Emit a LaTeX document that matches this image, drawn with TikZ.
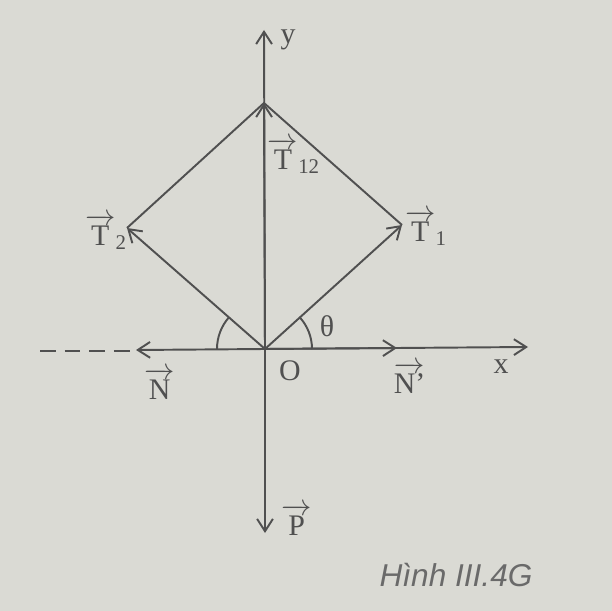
\documentclass[tikz,border=0pt]{standalone}
\usepackage{amsmath}
\usepackage{fontspec}
\setmainfont{Liberation Serif}
\newfontfamily\capfont{Liberation Sans}
\usetikzlibrary{arrows.meta}
\definecolor{paper}{RGB}{218,218,212}
\definecolor{ink}{RGB}{80,80,80}
\newcommand\vlab[2]{$\overrightarrow{\text{#1}}_{\text{#2}}$}
\begin{document}
\begin{tikzpicture}[x=0.02cm,y=-0.02cm,
  vec/.style={draw=ink,line width=1.1pt,-{Straight Barb[length=7pt,width=9pt,line width=1.1pt]}},
  ln/.style={draw=ink,line width=1.1pt},
  lab/.style={text=ink,font=\fontsize{17}{20}\selectfont,inner sep=0pt}]
\fill[paper] (0,0) rectangle (612,611);
\useasboundingbox (0,0) rectangle (612,611);
\coordinate (O) at (265,349);
\coordinate (Ytop) at (264,30);
\coordinate (Xend) at (528,347);
\coordinate (T12) at (264,103);
\coordinate (T1) at (402,225);
\coordinate (T2) at (127,228);
\coordinate (P) at (265,533);
\coordinate (N) at (136,350);
\coordinate (Np) at (397,348);
\coordinate (D1) at (40,351);
\coordinate (D2) at (130,351);
% axes
\draw[vec] (O) -- (Ytop);
\draw[vec] (O) -- (Xend);
\draw[vec] (O) -- (P);
\draw[vec] (O) -- (N);
\draw[vec] (O) -- (Np);
\draw[ln,dashed,dash pattern=on 9pt off 5pt] (D1) -- (D2);
% forces
\draw[vec] (O) -- (T12);
\draw[vec] (O) -- (T1);
\draw[vec] (O) -- (T2);
\draw[ln] (T1) -- (T12) -- (T2);
% angles
\draw[ln] (O) ++(47,0) arc[start angle=0,end angle=-42,radius=47];
\draw[ln] (O) ++(-48,0) arc[start angle=180,end angle=221,radius=48];
% labels
\node[lab] (ly) at (288,40) {y};
\node[lab] (lx) at (501,367) {x};
\node[lab] (lO) at (290,371) {O};
\node[lab] (lth) at (327,326) {θ};
\node[lab] (lT12) at (294,156) {\vlab{T}{12}};
\node[lab] (lT1) at (426,228) {\vlab{T}{1}};
\node[lab] (lT2) at (106,232) {\vlab{T}{2}};
\node[lab] (lN) at (160,386) {\vlab{N}{}};
\node[lab] (lNp) at (410,380) {\vlab{N'}{}};
\node[lab] (lP) at (297,522) {\vlab{P}{}};
\node[text=ink!85,font=\capfont\itshape\fontsize{18}{21}\selectfont,inner sep=0pt] (cap) at (456,575) {Hình III.4G};
\end{tikzpicture}
\end{document}
